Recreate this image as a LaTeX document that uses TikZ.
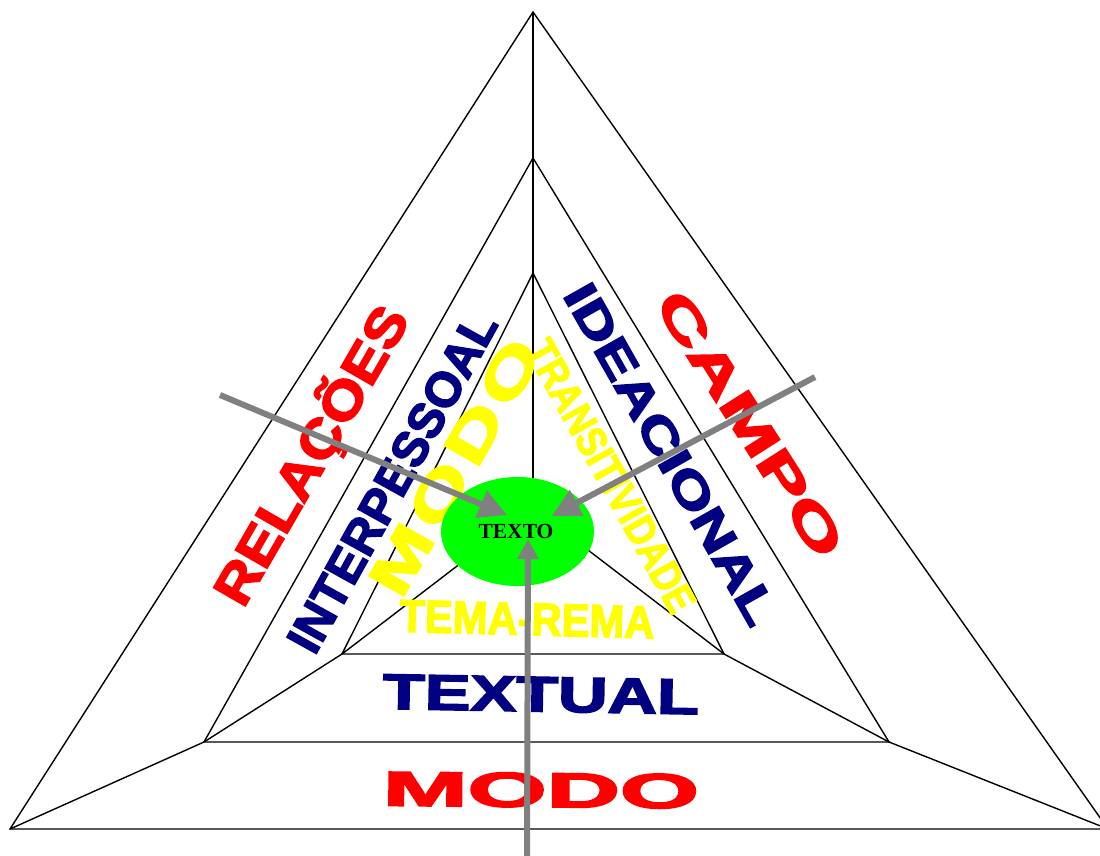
\documentclass[tikz,border=0pt]{standalone}
\usepackage{fontspec}
\usetikzlibrary{arrows.meta}
\newfontfamily\wa[FakeBold=3]{Liberation Sans Bold}
\newfontfamily\was[FakeBold=3,LetterSpace=8]{Liberation Sans Bold}
\newfontfamily\serifb{Liberation Serif Bold}
\definecolor{wred}{HTML}{FF0000}
\definecolor{wnavy}{HTML}{000080}
\definecolor{wyellow}{HTML}{FFFF00}
\definecolor{wgreen}{HTML}{00FF00}
\definecolor{wgray}{HTML}{808080}
\newcommand{\wart}[3]{\resizebox{#1pt}{\height}{\fontsize{#2}{#2}\selectfont\wa #3}}
\newcommand{\warts}[3]{\resizebox{#1pt}{\height}{\fontsize{#2}{#2}\selectfont\was #3}}
\tikzset{
  edge/.style={draw=black, line width=1.4pt, line join=miter},
  wlab/.style={inner sep=0pt, outer sep=0pt, text depth=0pt},
  arr/.style={draw=wgray, line width=6pt, -{Triangle[length=28pt,width=28pt]}},
  arrsmall/.style={draw=wgray, line width=6pt, -{Triangle[length=20pt,width=20pt]}},
}
\begin{document}
\begin{tikzpicture}[x=1pt, y=-1pt]
\useasboundingbox (0,0) rectangle (1100,856);
\clip (0,0) rectangle (1100,856);
% vertices
\coordinate (OT) at (533,12);
\coordinate (OL) at (10,829);
\coordinate (OR) at (1108,829);
\coordinate (MT) at (533,158);
\coordinate (ML) at (204,742);
\coordinate (MR) at (889,742);
\coordinate (IT) at (533,273);
\coordinate (IL) at (342,654);
\coordinate (IR) at (724,654);
\coordinate (C) at (533,508);
% triangles
\draw[edge] (OT) -- (OL) -- (OR) -- cycle;
\draw[edge] (MT) -- (ML) -- (MR) -- cycle;
\draw[edge] (IT) -- (IL) -- (IR) -- cycle;
% spokes
\draw[edge] (OT) -- (MT) -- (IT) -- (C);
\draw[edge] (OL) -- (ML) -- (IL) -- (C);
\draw[edge] (OR) -- (MR) -- (IR) -- (C);
% labels
\node[wlab, text=wred, rotate=60, text height=37pt] (rel) at (311,455) {\wart{335}{53}{RELAÇÕES}};
\node[wlab, text=wnavy, rotate=61, text height=34pt] (inter) at (392,482) {\wart{380}{49}{INTERPESSOAL}};
\node[wlab, text=wyellow, rotate=60, text height=40pt] (modoy) at (455,467) {\warts{285}{58}{MODO}};
\node[wlab, text=wyellow, rotate=-61, text height=29pt] (trans) at (611,476) {\wart{305}{42}{TRANSITIVIDADE}};
\node[wlab, text=wnavy, rotate=-60.5, text height=33pt] (idea) at (671,454) {\wart{384}{47}{IDEACIONAL}};
\node[wlab, text=wred, rotate=-57.5, text height=34pt] (campo) at (750,424) {\wart{306}{49}{CAMPO}};
\node[wlab, text=wyellow, rotate=-1.5, text height=32pt] (tema) at (527,619) {\wart{255}{46}{TEMA-REMA}};
\node[wlab, text=wnavy, rotate=-1, text height=35pt] (textual) at (541,694) {\wart{316}{50}{TEXTUAL}};
\node[wlab, text=wred, rotate=-0.5, text height=34pt] (modor) at (541,790) {\wart{316}{49}{MODO}};
% center ellipse
\fill[wgreen] (517.5,531.5) ellipse [x radius=76.5, y radius=54.5];
\node[inner sep=0pt] (texto) at (516,531) {\fontsize{21.5}{21.5}\selectfont\serifb TEXTO};
% arrows
\coordinate (sL) at (220,395);
\coordinate (tL) at (507,515);
\coordinate (sR) at (815,377);
\coordinate (tR) at (552,516);
\coordinate (sB) at (527,860);
\coordinate (tB) at (528,539);
\draw[arr] (sL) -- (tL);
\draw[arr] (sR) -- (tR);
\draw[arrsmall] (sB) -- (tB);
\end{tikzpicture}
\end{document}
